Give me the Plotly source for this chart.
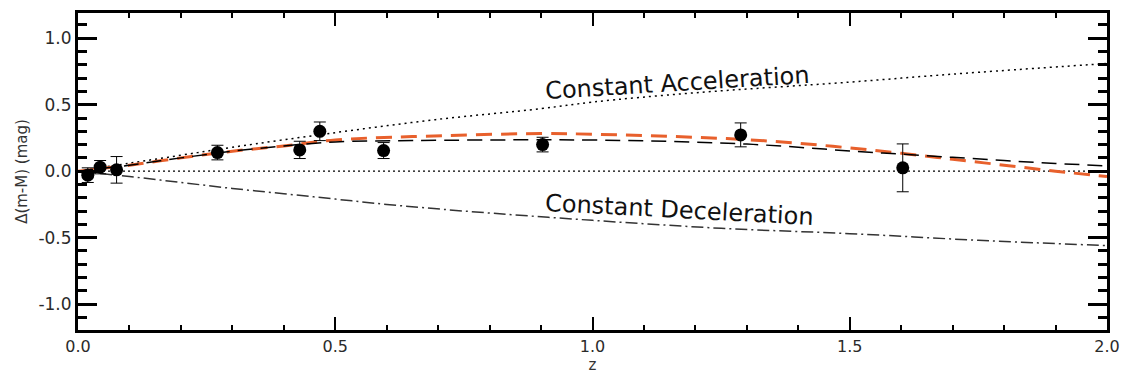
import plotly.graph_objects as go

# ---- data ----
obs_z = [0.019, 0.043, 0.075, 0.271, 0.431, 0.470, 0.594, 0.903, 1.288, 1.603]
obs_dm = [-0.03, 0.03, 0.01, 0.14, 0.16, 0.30, 0.155, 0.20, 0.273, 0.025]
obs_err = [0.055, 0.05, 0.10, 0.055, 0.065, 0.07, 0.06, 0.055, 0.09, 0.18]

accel_z = [0.0, 0.1, 0.2, 0.3, 0.5, 0.7, 0.9, 1.0, 1.2, 1.5, 1.7, 2.0]
accel_dm = [0.0, 0.06, 0.12, 0.18, 0.29, 0.39, 0.47, 0.52, 0.59, 0.67, 0.73, 0.81]

decel_z = [0.0, 0.1, 0.2, 0.3, 0.4, 0.5, 0.6, 0.75, 1.0, 1.25, 1.5, 1.75, 2.0]
decel_dm = [0.0, -0.04, -0.085, -0.13, -0.17, -0.21, -0.25, -0.30, -0.37, -0.43, -0.47, -0.52, -0.56]

fit_z = [0.0, 0.1, 0.2, 0.3, 0.4, 0.5, 0.65, 0.9, 1.0, 1.1, 1.2, 1.3, 1.4, 1.5, 1.6, 1.7, 1.8, 1.9, 2.0]
fit_black = [0.0, 0.045, 0.10, 0.15, 0.19, 0.22, 0.23, 0.236, 0.234, 0.228, 0.218, 0.204, 0.18, 0.152, 0.128, 0.104, 0.08, 0.058, 0.04]
fit_orange = [0.0, 0.045, 0.10, 0.15, 0.19, 0.235, 0.26, 0.283, 0.278, 0.268, 0.255, 0.237, 0.21, 0.175, 0.135, 0.09, 0.045, 0.0, -0.04]

zero_z = [0.0, 2.0]
zero_dm = [0.0, 0.0]

x_ticks = [0.0, 0.5, 1.0, 1.5, 2.0]
y_ticks = [-1.0, -0.5, 0.0, 0.5, 1.0]

label_accel = "Constant Acceleration"
label_decel = "Constant Deceleration"

FONT = "DejaVu Sans"

fig = go.Figure()

fig.add_trace(go.Scatter(x=zero_z, y=zero_dm, mode="lines",
                         line=dict(color="black", width=1.3, dash="2px,3px"),
                         hoverinfo="skip"))
fig.add_trace(go.Scatter(x=accel_z, y=accel_dm, mode="lines", line_shape="spline",
                         line=dict(color="black", width=1.5, dash="2px,4px")))
fig.add_trace(go.Scatter(x=decel_z, y=decel_dm, mode="lines", line_shape="spline",
                         line=dict(color="#333333", width=1.5, dash="12px,4px,2px,4px")))
fig.add_trace(go.Scatter(x=fit_z, y=fit_orange, mode="lines", line_shape="spline",
                         line=dict(color="#E8602C", width=3, dash="16px,9px")))
fig.add_trace(go.Scatter(x=fit_z, y=fit_black, mode="lines", line_shape="spline",
                         line=dict(color="black", width=1.5, dash="15px,8px")))
fig.add_trace(go.Scatter(x=obs_z, y=obs_dm, mode="markers",
                         marker=dict(color="black", size=13),
                         error_y=dict(type="data", array=obs_err, visible=True,
                                      color="black", thickness=1, width=6)))

fig.add_annotation(x=1.165, y=0.66, text=label_accel, showarrow=False,
                   textangle=-3.5, font=dict(family=FONT, size=24, color="#111111"))
fig.add_annotation(x=1.17, y=-0.29, text=label_decel, showarrow=False,
                   textangle=3, font=dict(family=FONT, size=24, color="#111111"))

fig.update_layout(
    width=1130, height=381,
    margin=dict(l=78, r=18, t=10, b=48),
    paper_bgcolor="white", plot_bgcolor="white",
    showlegend=False,
    font=dict(family=FONT, color="#333333"),
)
fig.update_xaxes(
    range=[0, 2], tickvals=x_ticks, ticktext=[f"{v:.1f}" for v in x_ticks],
    showgrid=False, zeroline=False,
    showline=True, linewidth=3, linecolor="black", mirror="allticks",
    ticks="inside", ticklen=13, tickwidth=2, tickcolor="black",
    minor=dict(dtick=0.1, tick0=0, ticks="inside", ticklen=5, tickwidth=1.5, tickcolor="black"),
    tickfont=dict(family=FONT, size=16, color="#2a2a2a"),
    title=dict(text="z", font=dict(family=FONT, size=15, color="#333333"), standoff=4),
)
fig.update_yaxes(
    range=[-1.195, 1.19], tickvals=y_ticks, ticktext=[f"{v:.1f}" for v in y_ticks],
    showgrid=False, zeroline=False,
    showline=True, linewidth=3, linecolor="black", mirror="allticks",
    ticks="inside", ticklen=19, tickwidth=3, tickcolor="black",
    minor=dict(dtick=0.1, tick0=0, ticks="inside", ticklen=9, tickwidth=3, tickcolor="black"),
    tickfont=dict(family=FONT, size=17, color="#2a2a2a"),
    title=dict(text="Δ(m-M) (mag)", font=dict(family=FONT, size=15, color="#333333"), standoff=8),
)

fig.write_html("out.html")
